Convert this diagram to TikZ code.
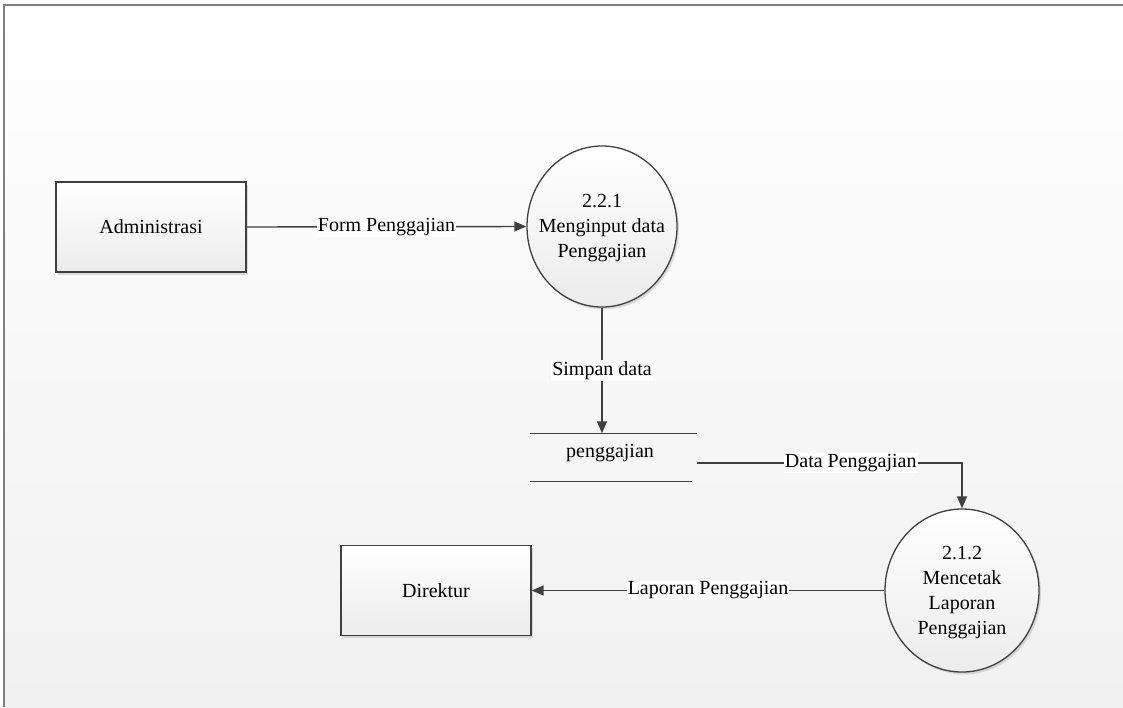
\documentclass[tikz,border=0pt]{standalone}
\usepackage{fontspec}
\setmainfont{Liberation Serif}
\usetikzlibrary{arrows.meta,shadows,shapes.geometric,calc}
\definecolor{ln}{RGB}{64,64,64}
\definecolor{frm}{RGB}{128,128,128}
\definecolor{bgb}{RGB}{241,241,241}
\definecolor{shb}{RGB}{236,236,236}
\tikzset{
  shad/.style={drop shadow={shadow xshift=2pt,shadow yshift=-2.5pt,opacity=0.12,fill=black}},
  entity/.style={draw=ln,line width=1.3pt,top color=white,bottom color=shb,
    minimum width=190pt,minimum height=90pt,inner sep=0pt,shad},
  proc/.style={ellipse,draw=ln,line width=1.3pt,top color=white,bottom color=shb,
    inner sep=0pt,shad},
  ptext/.style={align=center,inner sep=0pt},
  storebox/.style={minimum width=167pt,minimum height=48pt,inner sep=0pt},
  flow/.style={draw=ln,line width=1.4pt,-{Triangle[length=12pt,width=10pt]}},
  lbl/.style={fill=white,inner sep=1pt,text=black},
}
\begin{document}
\begin{tikzpicture}[x=1pt,y=-1pt,font=\fontsize{20}{25}\selectfont]
\useasboundingbox (0,0) rectangle (1123,707);
\fill[white] (0,0) rectangle (1123,707);
\shade[top color=white,bottom color=bgb] (4,5) rectangle (1123,707);
\draw[frm,line width=1.5pt] (4,707) -- (4,5) -- (1123,5);

\node[entity] (adm) at (151,227) {Administrasi};
\node[entity] (dir) at (436,590.5) {Direktur};

\node[proc,minimum width=150pt,minimum height=161pt] (c1) at (602,226.5) {};
\node[ptext] (t1) at (602,228) {2.2.1\\Menginput data\\Penggajian};

\node[proc,minimum width=154pt,minimum height=163pt] (c2) at (962,590.5) {};
\node[ptext] (t2) at (962,593) {2.1.2\\Mencetak\\Laporan\\Penggajian};

\node[storebox] (st) at (613.5,457.5) {};
\node[inner sep=0pt] (stt) at (610,453) {penggajian};
\draw[ln,line width=1.5pt] (st.north west) -- (st.north east);
\draw[ln,line width=1.5pt] (st.south west) -- ([xshift=-5pt]st.south east);

\draw[flow] (adm.east) -- node[lbl] {Form Penggajian} (c1.west);
\draw[flow] (c1.south) -- node[lbl] {Simpan data} (c1.south |- st.north);
\draw[flow] ([yshift=-5.5pt]st.east) -| node[lbl,pos=0.29] {Data Penggajian} (c2.north);
\draw[flow] (c2.west) -- node[lbl] {Laporan Penggajian} (dir.east);
\end{tikzpicture}
\end{document}
